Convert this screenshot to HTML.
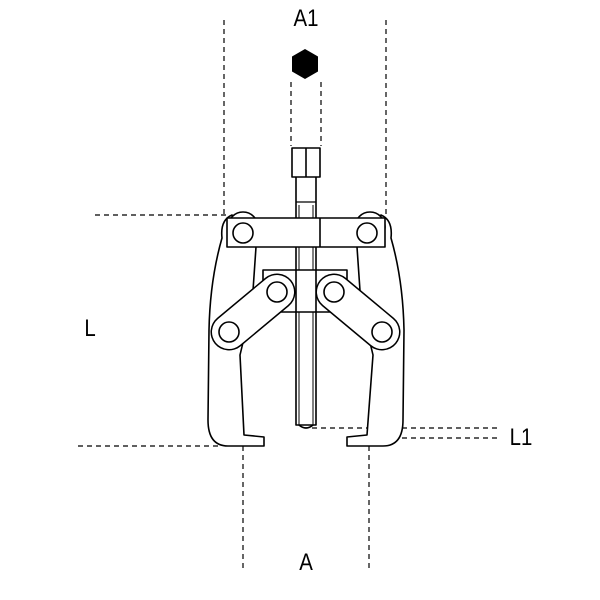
<!DOCTYPE html>
<html><head><style>body{margin:0;background:#fff}svg{display:block}text{font-family:"Liberation Sans",sans-serif;fill:#000}</style></head><body>
<svg width="600" height="600" viewBox="0 0 600 600" xmlns="http://www.w3.org/2000/svg">
<g stroke="#000" stroke-width="1.2" stroke-dasharray="5,4" fill="none">
<line x1="224" y1="20" x2="224" y2="215"/>
<line x1="386" y1="20" x2="386" y2="235"/>
<line x1="291" y1="82" x2="291" y2="146"/>
<line x1="321" y1="82" x2="321" y2="146"/>
<line x1="95" y1="215" x2="226" y2="215"/>
<line x1="78" y1="446" x2="218" y2="446"/>
<line x1="243" y1="437" x2="243" y2="570"/>
<line x1="369" y1="437" x2="369" y2="570"/>
<line x1="312" y1="428" x2="498" y2="428"/>
<line x1="357" y1="438" x2="498" y2="438"/>
</g>
<polygon points="305,49 318,56.5 318,71.5 305,79 292,71.5 292,56.5" fill="#000"/>
<g font-size="24">
<text transform="translate(306,26) scale(0.85,1)" text-anchor="middle">A1</text>
<text transform="translate(90,336) scale(0.85,1)" text-anchor="middle">L</text>
<text transform="translate(306,570) scale(0.85,1)" text-anchor="middle">A</text>
<text transform="translate(521,445) scale(0.85,1)" text-anchor="middle">L1</text>
</g>
<g stroke="#000" stroke-width="1.6" fill="#fff" stroke-linejoin="round">
<path d="M232,215 Q220,220 222,238 Q210,280 209,330 L208,420 Q208,446 228,446 L264,446 L264,437 L244,435 L240,355 L252,305 L256,247 Z"/>
<path d="M381,215 Q393,220 391,238 Q403,280 404,330 L403,420 Q403,446 383,446 L347,446 L347,437 L367,435 L373,355 L361,305 L357,247 Z"/>
<circle cx="243" cy="227" r="15"/>
<circle cx="370" cy="227" r="15"/>
<rect x="296" y="175" width="20" height="250" />
<line x1="296" y1="202" x2="316" y2="202" stroke-width="1.2"/>
<line x1="299" y1="205" x2="299" y2="425" stroke-width="1"/>
<line x1="313" y1="205" x2="313" y2="425" stroke-width="1"/>
<path d="M299,425 Q306,431 313,425" fill="none"/>
<rect x="292" y="148" width="28" height="29"/>
<line x1="306" y1="148" x2="306" y2="177"/>
<rect x="227" y="218" width="158" height="29"/>
<line x1="320" y1="218" x2="320" y2="247"/>
<circle cx="243" cy="233" r="10"/>
<circle cx="367" cy="233" r="10"/>
<rect x="263" y="270" width="84" height="42"/>
<line x1="296" y1="270" x2="296" y2="312"/>
<line x1="316" y1="270" x2="316" y2="312"/>
<path d="M277,292 L229,332" stroke-width="37" stroke-linecap="round" stroke="#000"/>
<path d="M277,292 L229,332" stroke-width="34" stroke-linecap="round" stroke="#fff"/>
<path d="M334,292 L382,332" stroke-width="37" stroke-linecap="round" stroke="#000"/>
<path d="M334,292 L382,332" stroke-width="34" stroke-linecap="round" stroke="#fff"/>
<circle cx="277" cy="292" r="10"/>
<circle cx="229" cy="332" r="10"/>
<circle cx="334" cy="292" r="10"/>
<circle cx="382" cy="332" r="10"/>
</g>
</svg>
</body></html>
